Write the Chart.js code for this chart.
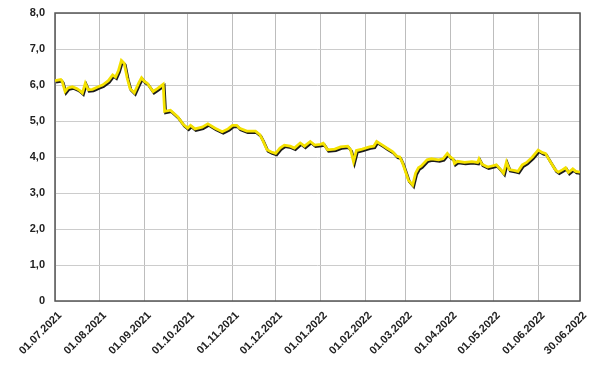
<!DOCTYPE html>
<html>
<head>
<meta charset="utf-8">
<script src="https://cdn.jsdelivr.net/npm/chart.js@4"></script>
<style>
  html, body { margin: 0; padding: 0; background: #fff; }
  #wrap { width: 599px; height: 365px; position: relative; }
</style>
</head>
<body>
<div id="wrap"><canvas id="chart"></canvas></div>
<script>
// data
const dates = [
  '2021-07-01','2021-07-05','2021-07-06','2021-07-08','2021-07-10','2021-07-13','2021-07-16','2021-07-18',
  '2021-07-20','2021-07-22','2021-07-24','2021-07-27','2021-07-31','2021-08-03','2021-08-07','2021-08-10',
  '2021-08-12','2021-08-14','2021-08-16','2021-08-18','2021-08-20','2021-08-22','2021-08-25','2021-08-28',
  '2021-08-30','2021-09-01','2021-09-03','2021-09-07','2021-09-10','2021-09-14','2021-09-15','2021-09-19',
  '2021-09-24','2021-09-28','2021-10-01','2021-10-03','2021-10-06','2021-10-11','2021-10-15','2021-10-20',
  '2021-10-25','2021-10-29','2021-11-01','2021-11-04','2021-11-06','2021-11-11','2021-11-17','2021-11-20',
  '2021-11-22','2021-11-25','2021-11-28','2021-12-01','2021-12-04','2021-12-07','2021-12-11','2021-12-14',
  '2021-12-18','2021-12-21','2021-12-25','2021-12-28','2022-01-01','2022-01-03','2022-01-06','2022-01-11',
  '2022-01-15','2022-01-20','2022-01-22','2022-01-24','2022-01-26','2022-01-30','2022-02-04','2022-02-07',
  '2022-02-09','2022-02-13','2022-02-16','2022-02-20','2022-02-23','2022-02-25','2022-02-27','2022-03-03',
  '2022-03-06','2022-03-08','2022-03-10','2022-03-12','2022-03-16','2022-03-19','2022-03-24','2022-03-27',
  '2022-03-30','2022-04-01','2022-04-03','2022-04-04','2022-04-06','2022-04-11','2022-04-16','2022-04-20',
  '2022-04-21','2022-04-23','2022-04-27','2022-04-30','2022-05-03','2022-05-06','2022-05-08','2022-05-10',
  '2022-05-12','2022-05-16','2022-05-18','2022-05-21','2022-05-24','2022-05-28','2022-06-01','2022-06-04',
  '2022-06-06','2022-06-09','2022-06-13','2022-06-15','2022-06-18','2022-06-20','2022-06-22','2022-06-25',
  '2022-06-27','2022-06-30'
];
const values = [
  6.12, 6.15, 6.10, 5.82, 5.92, 5.95, 5.90, 5.85,
  5.78, 6.05, 5.87, 5.88, 5.95, 6.00, 6.12, 6.28,
  6.22, 6.40, 6.68, 6.60, 6.20, 5.90, 5.78, 6.05,
  6.20, 6.10, 6.05, 5.82, 5.90, 6.02, 5.27, 5.30,
  5.12, 4.90, 4.80, 4.88, 4.78, 4.83, 4.92, 4.80,
  4.70, 4.78, 4.88, 4.88, 4.80, 4.72, 4.72, 4.62,
  4.47, 4.20, 4.14, 4.10, 4.25, 4.33, 4.30, 4.25,
  4.39, 4.30, 4.43, 4.33, 4.35, 4.38, 4.20, 4.22,
  4.28, 4.30, 4.20, 3.87, 4.18, 4.22, 4.28, 4.30,
  4.43, 4.33, 4.25, 4.15, 4.02, 4.00, 3.83, 3.36,
  3.22, 3.55, 3.70, 3.75, 3.92, 3.95, 3.92, 3.95,
  4.10, 4.00, 3.95, 3.82, 3.88, 3.85, 3.87, 3.85,
  3.95, 3.80, 3.72, 3.75, 3.78, 3.65, 3.55, 3.86,
  3.65, 3.62, 3.60, 3.78, 3.85, 4.00, 4.19, 4.12,
  4.10, 3.90, 3.64, 3.58, 3.65, 3.70, 3.57, 3.67,
  3.60, 3.58
];
const xTickLabels = [
  '01.07.2021','01.08.2021','01.09.2021','01.10.2021','01.11.2021','01.12.2021',
  '01.01.2022','01.02.2022','01.03.2022','01.04.2022','01.05.2022','01.06.2022','30.06.2022'
];
const yTicks = [0, 1, 2, 3, 4, 5, 6, 7, 8];

// days since the first date, so the x axis can be a plain linear scale
const start = Date.UTC(2021, 6, 1);
function dayOf(iso) {
  const p = iso.split('-').map(Number);
  return (Date.UTC(p[0], p[1] - 1, p[2]) - start) / 86400000;
}
function dayOfLabel(lbl) {
  const p = lbl.split('.');
  return dayOf(p[2] + '-' + p[1] + '-' + p[0]);
}
const tickDays = xTickLabels.map(dayOfLabel);
const points = dates.map((d, i) => ({ x: dayOf(d), y: values[i] }));

const font = { family: "'Liberation Sans', Arial, sans-serif", size: 11, weight: 'bold' };

// dark shadow under the yellow line
const shadowPlugin = {
  id: 'shadow',
  beforeDatasetDraw(chart) {
    const ctx = chart.ctx;
    ctx.save();
    ctx.shadowColor = '#1a1a1a';
    ctx.shadowOffsetX = 1;
    ctx.shadowOffsetY = 1.5;
    ctx.shadowBlur = 0;
  },
  afterDatasetDraw(chart) {
    chart.ctx.restore();
  }
};

// frame around the plot area
const framePlugin = {
  id: 'frame',
  beforeDatasetsDraw(chart) {
    const a = chart.chartArea;
    const ctx = chart.ctx;
    ctx.save();
    ctx.strokeStyle = '#555';
    ctx.lineWidth = 1.5;
    ctx.strokeRect(a.left, a.top, a.right - a.left, a.bottom - a.top);
    ctx.restore();
  }
};

new Chart(document.getElementById('chart'), {
  type: 'line',
  data: {
    datasets: [{
      data: points,
      borderColor: '#f4e100',
      borderWidth: 2.8,
      pointRadius: 0,
      tension: 0,
      fill: false
    }]
  },
  options: {
    responsive: true,
    maintainAspectRatio: false,
    animation: false,
    layout: { padding: { top: 13, right: 19, left: 0, bottom: 0 } },
    plugins: { legend: { display: false }, tooltip: { enabled: false } },
    scales: {
      x: {
        type: 'linear',
        min: tickDays[0],
        max: tickDays[tickDays.length - 1],
        afterBuildTicks(scale) {
          scale.ticks = tickDays.map(v => ({ value: v }));
        },
        afterFit(scale) {
          scale.height = 64;
          scale.paddingLeft = 0;
          scale.paddingRight = 0;
        },
        ticks: {
          autoSkip: false,
          minRotation: 45,
          maxRotation: 45,
          padding: 8,
          labelOffset: 5,
          color: '#222',
          font: font,
          callback: (v) => xTickLabels[tickDays.indexOf(v)]
        },
        grid: { color: '#bdbdbd', lineWidth: 1, drawTicks: false },
        border: { display: false }
      },
      y: {
        min: 0,
        max: 8,
        afterBuildTicks(scale) {
          scale.ticks = yTicks.map(v => ({ value: v }));
        },
        afterFit(scale) {
          scale.width = 55;
          scale.paddingTop = 0;
          scale.paddingBottom = 0;
        },
        ticks: {
          padding: 10,
          color: '#222',
          font: font,
          callback: (v) => v === 0 ? '0' : v.toFixed(1).replace('.', ',')
        },
        grid: { color: '#cccccc', lineWidth: 1, drawTicks: false },
        border: { display: false }
      }
    }
  },
  plugins: [framePlugin, shadowPlugin]
});
</script>
</body>
</html>
